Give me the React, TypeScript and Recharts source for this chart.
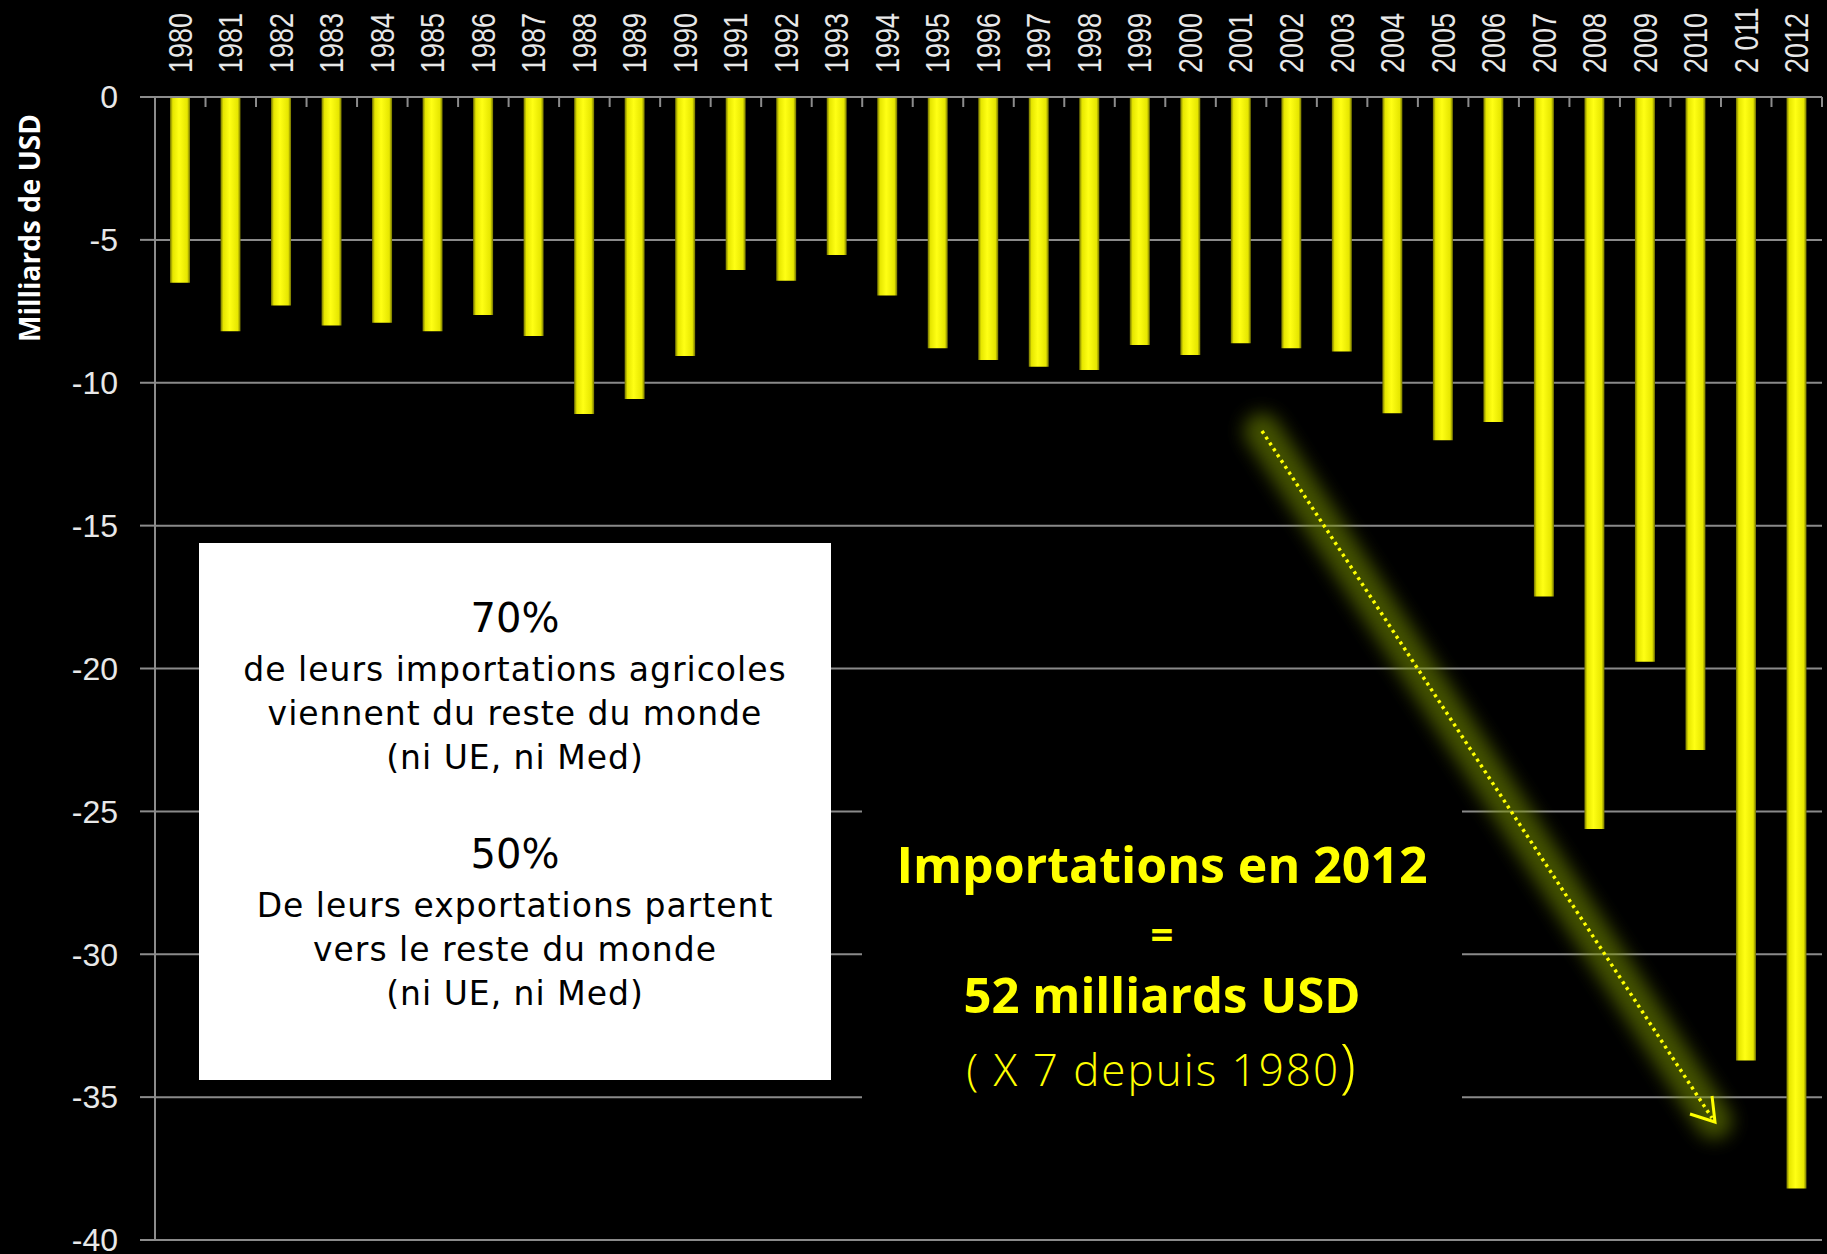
import React from 'react';
import { BarChart, Bar, XAxis, YAxis, CartesianGrid, Label } from 'recharts';

const W = 1827;
const H = 1254;

// Solde / importations agricoles (milliards USD), 1980-2012
const years = [
  '1980', '1981', '1982', '1983', '1984', '1985', '1986', '1987', '1988', '1989',
  '1990', '1991', '1992', '1993', '1994', '1995', '1996', '1997', '1998', '1999',
  '2000', '2001', '2002', '2003', '2004', '2005', '2006', '2007', '2008', '2009',
  '2010', '2 011', '2012',
];
const imports = [
  -6.5, -8.2, -7.3, -8.0, -7.9, -8.2, -7.63, -8.36, -11.09, -10.57,
  -9.06, -6.05, -6.43, -5.53, -6.95, -8.79, -9.2, -9.44, -9.55, -8.68,
  -9.03, -8.62, -8.79, -8.91, -11.07, -12.01, -11.37, -17.48, -25.62, -19.76,
  -22.85, -33.72, -38.2,
];
const yTicks = [0, -5, -10, -15, -20, -25, -30, -35, -40];

const boxLines70 = ['de leurs importations agricoles', 'viennent du reste du monde', '(ni UE, ni Med)'];
const boxLines50 = ['De leurs exportations partent', 'vers le reste du monde', '(ni UE, ni Med)'];

const data = years.map((year, i) => ({ year, value: imports[i] }));

const PLOT_LEFT = 155;
const PLOT_RIGHT = 5;
const HALF_BAND = (W - PLOT_LEFT - PLOT_RIGHT) / years.length / 2;

const YearTick = (props: any) => {
  const { x, y, payload } = props;
  return (
    <g>
      <line x1={x + HALF_BAND} y1={y} x2={x + HALF_BAND} y2={y + 10} stroke="#8c8c8c" strokeWidth={2} />
      <text
        x={0}
        y={0}
        transform={`translate(${x}, ${y - 24}) rotate(-90) scale(1, 1.2)`}
        textAnchor="start"
        dominantBaseline="central"
        fill="#e8e8e8"
        fontSize={27}
        fontFamily="Liberation Sans, Arial, sans-serif"
      >
        {payload.value}
      </text>
    </g>
  );
};

const App: React.FC = () => {
  return (
    <div style={{ position: 'fixed', left: 0, top: 0, width: W, height: H, background: '#000', overflow: 'hidden' }}>
      <BarChart
        width={W}
        height={H}
        data={data}
        margin={{ top: 0, right: PLOT_RIGHT, bottom: 14, left: 0 }}
        barSize={20}
      >
        <defs>
          <linearGradient id="barShade" x1="0" y1="0" x2="1" y2="0">
            <stop offset="0%" stopColor="#6f6f00" />
            <stop offset="14%" stopColor="#e6e600" />
            <stop offset="45%" stopColor="#ffff14" />
            <stop offset="86%" stopColor="#e6e600" />
            <stop offset="100%" stopColor="#6f6f00" />
          </linearGradient>
        </defs>
        <CartesianGrid horizontal vertical={false} stroke="#8a8a8a" strokeWidth={2} />
        <XAxis
          dataKey="year"
          orientation="top"
          height={97}
          interval={0}
          tickLine={false}
          tickSize={0}
          tickMargin={0}
          axisLine={{ stroke: '#8c8c8c', strokeWidth: 2 }}
          tick={<YearTick />}
        />
        <YAxis
          type="number"
          domain={[-40, 0]}
          ticks={yTicks}
          interval={0}
          width={PLOT_LEFT}
          tickSize={15}
          tickMargin={22}
          axisLine={{ stroke: '#8c8c8c', strokeWidth: 2 }}
          tickLine={{ stroke: '#8c8c8c', strokeWidth: 2 }}
          tick={{ fill: '#e8e8e8', fontSize: 32, fontFamily: 'Liberation Sans, Arial, sans-serif' }}
        >
          <Label
            content={() => (
              <text
                x={29}
                y={228}
                transform="rotate(-90, 29, 228)"
                textAnchor="middle"
                dominantBaseline="central"
                fill="#ffffff"
                fontSize={28}
                fontWeight="bold"
                fontFamily="Open Sans, sans-serif"
              >
                Milliards de USD
              </text>
            )}
          />
        </YAxis>
        <Bar dataKey="value" fill="url(#barShade)" isAnimationActive={false} />
      </BarChart>

      {/* encadré blanc */}
      <div
        style={{
          position: 'absolute', left: 199, top: 543, width: 632, height: 537, background: '#fff',
          fontFamily: 'DejaVu Sans, sans-serif', color: '#000', textAlign: 'center',
        }}
      >
        <div style={{ position: 'absolute', top: 47, width: '100%', fontSize: 40, lineHeight: '56px' }}>70%</div>
        {boxLines70.map((t, i) => (
          <div key={t + i} style={{ position: 'absolute', top: 105 + i * 44, width: '100%', fontSize: 33, letterSpacing: 1, lineHeight: '44px' }}>{t}</div>
        ))}
        <div style={{ position: 'absolute', top: 283, width: '100%', fontSize: 40, lineHeight: '56px' }}>50%</div>
        {boxLines50.map((t, i) => (
          <div key={t + i} style={{ position: 'absolute', top: 341 + i * 44, width: '100%', fontSize: 33, letterSpacing: 1, lineHeight: '44px' }}>{t}</div>
        ))}
      </div>

      {/* zone du texte jaune */}
      <div
        style={{
          position: 'absolute', left: 862, top: 780, width: 600, height: 360, background: '#000',
          fontFamily: 'Open Sans, sans-serif', color: '#ffff00', textAlign: 'center',
        }}
      >
        <div style={{ position: 'absolute', top: 52, width: '100%', fontSize: 50, fontWeight: 'bold', lineHeight: '64px' }}>Importations en 2012</div>
        <div style={{ position: 'absolute', top: 122, width: '100%', fontSize: 40, fontWeight: 'bold', lineHeight: '64px' }}>=</div>
        <div style={{ position: 'absolute', top: 182, width: '100%', fontSize: 49, fontWeight: 'bold', lineHeight: '64px' }}>52 milliards USD</div>
        <div style={{ position: 'absolute', top: 256, width: '100%', fontSize: 44, fontWeight: 300, letterSpacing: 2, lineHeight: '56px' }}>
          ( X 7 depuis 1980<span style={{ fontSize: 58 }}>)</span>
        </div>
      </div>

      {/* flèche de tendance */}
      <svg width={W} height={H} style={{ position: 'absolute', left: 0, top: 0, pointerEvents: 'none' }}>
        <defs>
          <filter id="glow" x="-20%" y="-20%" width="140%" height="140%">
            <feGaussianBlur stdDeviation="9" />
          </filter>
        </defs>
        <line x1={1262} y1={431} x2={1714} y2={1121} stroke="#7a9400" strokeOpacity={0.55} strokeWidth={36} strokeLinecap="round" filter="url(#glow)" />
        <line x1={1262} y1={431} x2={1712} y2={1118} stroke="#ffff00" strokeWidth={3.5} strokeDasharray="3 4" />
        <polyline points="1690,1114 1715,1122 1712,1096" fill="none" stroke="#ffff00" strokeWidth={3} />
      </svg>
    </div>
  );
};

export default App;
